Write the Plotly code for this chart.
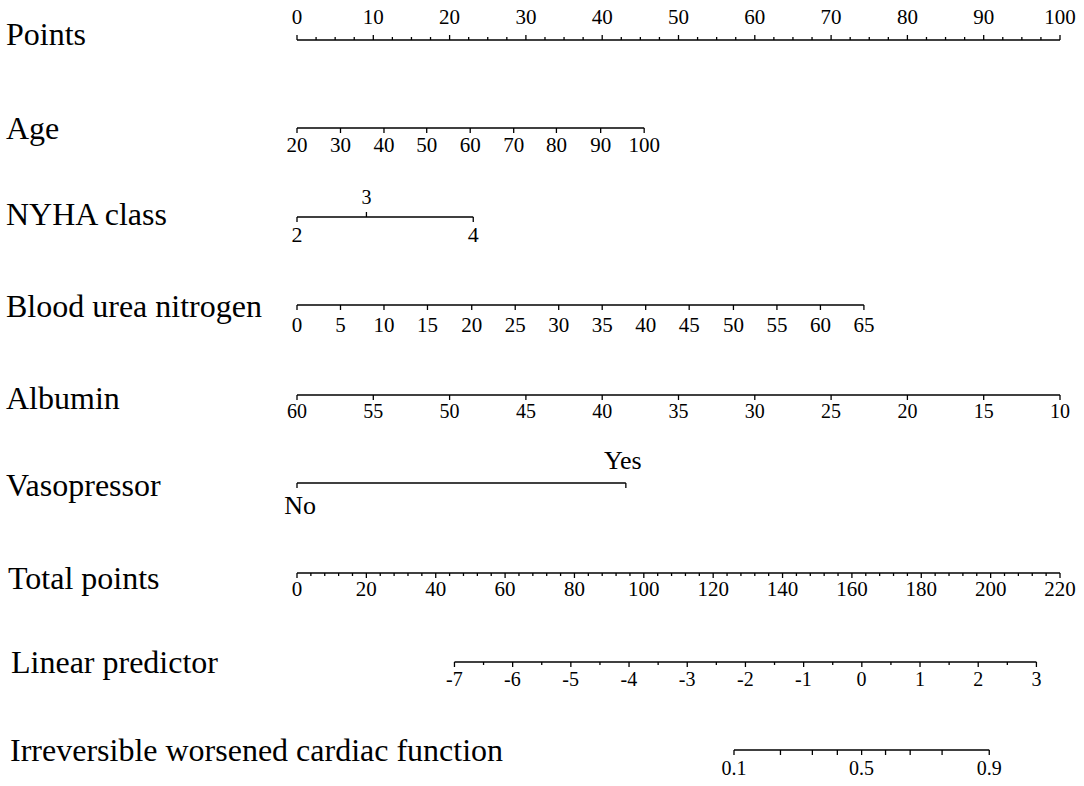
import plotly.graph_objects as go

# ---------------- data ----------------
points_ticks = [0, 10, 20, 30, 40, 50, 60, 70, 80, 90, 100]

age_values = [20, 30, 40, 50, 60, 70, 80, 90, 100]
age_points = [0, 5.7, 11.4, 17.0, 22.7, 28.4, 34.0, 39.8, 45.5]

nyha_values = ["2", "3", "4"]
nyha_points = [0, 9.1, 23.1]

bun_values = [0, 5, 10, 15, 20, 25, 30, 35, 40, 45, 50, 55, 60, 65]
bun_points = [0, 5.7, 11.4, 17.1, 22.9, 28.6, 34.3, 40.0, 45.7, 51.4, 57.2, 62.9, 68.6, 74.3]

albumin_values = [60, 55, 50, 45, 40, 35, 30, 25, 20, 15, 10]
albumin_points = [0, 10, 20, 30, 40, 50, 60, 70, 80, 90, 100]

vaso_values = ["No", "Yes"]
vaso_points = [0, 43.1]

total_ticks = [0, 20, 40, 60, 80, 100, 120, 140, 160, 180, 200, 220]
total_max = 220

lp_values = [-7, -6, -5, -4, -3, -2, -1, 0, 1, 2, 3]
lp_total = [45.4, 62.1, 78.9, 95.7, 112.5, 129.3, 146.0, 162.8, 179.6, 196.4, 213.2]

prob_values = [0.1, 0.2, 0.3, 0.4, 0.5, 0.6, 0.7, 0.8, 0.9]
prob_total = [126.0, 139.4, 148.6, 155.8, 162.8, 169.7, 176.8, 186.0, 199.6]
prob_labels = ["0.1", "", "", "", "0.5", "", "", "", "0.9"]

row_titles = ["Points", "Age", "NYHA class", "Blood urea nitrogen", "Albumin",
              "Vasopressor", "Total points", "Linear predictor",
              "Irreversible worsened cardiac function"]

# ---------------- layout constants ----------------
W, H = 1084, 786
X0_PX, X100_PX = 297, 1060        # page pixels of points 0 and 100
PPU = (X100_PX - X0_PX) / 100.0
FONT = "Liberation Serif"
LINE_Y = [40, 128, 217, 305, 395, 483, 573, 662, 750]
TITLE_Y = [34, 128, 214, 306, 398, 485, 578, 662, 750]
TITLE_X = [4, 4, 4, 4, 4, 4, 6, 9, 8]
LW = 1.3
TICK_FS = 21

fig = go.Figure()


def tp2pts(v):
    return v * 100.0 / total_max


def add_axis(xs_line, y, ticks, dirs, lens):
    xs = [min(xs_line), max(xs_line), None]
    ys = [y, y, None]
    for x, d, L in zip(ticks, dirs, lens):
        xs += [x, x, None]
        ys += [y, y + d * L, None]
    fig.add_trace(go.Scatter(x=xs, y=ys, mode="lines",
                             line=dict(color="black", width=LW),
                             cliponaxis=False,
                             hoverinfo="skip", showlegend=False))


def add_labels(xs, y, texts, size):
    fig.add_trace(go.Scatter(x=xs, y=[y] * len(xs), mode="text",
                             text=[str(t) for t in texts],
                             textfont=dict(family=FONT, size=size, color="black"),
                             textposition="middle center",
                             cliponaxis=False,
                             hoverinfo="skip", showlegend=False))


# Points (ticks upward)
pts_minor = [i * 2.5 for i in range(41)]
add_axis(pts_minor, LINE_Y[0], pts_minor, [-1] * len(pts_minor),
         [5 if (v % 10 == 0) else 3 for v in pts_minor])
add_labels(points_ticks, 19, points_ticks, TICK_FS)

# Age
add_axis(age_points, LINE_Y[1], age_points, [1] * len(age_points), [5] * len(age_points))
add_labels(age_points, 147, age_values, TICK_FS)

# NYHA
add_axis(nyha_points, LINE_Y[2], nyha_points, [1, -1, 1], [5, 5, 5])
add_labels([nyha_points[0], nyha_points[2]], 236, [nyha_values[0], nyha_values[2]], 22)
add_labels([nyha_points[1]], 199, [nyha_values[1]], 20)

# BUN
add_axis(bun_points, LINE_Y[3], bun_points, [1] * len(bun_points), [5] * len(bun_points))
add_labels(bun_points, 327, bun_values, TICK_FS)

# Albumin
add_axis(albumin_points, LINE_Y[4], albumin_points, [1] * len(albumin_points), [5] * len(albumin_points))
add_labels(albumin_points, 413, albumin_values, 20)

# Vasopressor
add_axis(vaso_points, LINE_Y[5], vaso_points, [1, 1], [5, 5])
add_labels([vaso_points[0] + 0.4], 507, [vaso_values[0]], 26)
add_labels([vaso_points[1] - 0.4], 462, [vaso_values[1]], 26)

# Total points
tot_minor = [tp2pts(v) for v in range(0, total_max + 1, 4)]
tot_lens = [5 if v % 20 == 0 else 3 for v in range(0, total_max + 1, 4)]
add_axis(tot_minor, LINE_Y[6], tot_minor, [1] * len(tot_minor), tot_lens)
add_labels([tp2pts(v) for v in total_ticks], 591, total_ticks, TICK_FS)

# Linear predictor
lp_pts = [tp2pts(v) for v in lp_total]
slope = (lp_pts[-1] - lp_pts[0]) / (lp_values[-1] - lp_values[0])
lp_minor = [lp_pts[0] + slope * 0.5 * i for i in range(int((lp_values[-1] - lp_values[0]) * 2) + 1)]
lp_lens = [5 if i % 2 == 0 else 3 for i in range(len(lp_minor))]
add_axis(lp_minor, LINE_Y[7], lp_minor, [1] * len(lp_minor), lp_lens)
add_labels(lp_pts, 681, lp_values, 20)

# Probability
pr_pts = [tp2pts(v) for v in prob_total]
add_axis(pr_pts, LINE_Y[8], pr_pts, [1] * len(pr_pts), [5] * len(pr_pts))
lab_x = [p for p, l in zip(pr_pts, prob_labels) if l]
lab_t = [l for l in prob_labels if l]
add_labels(lab_x, 770, lab_t, 20)

# Row titles
for t, ty, tx in zip(row_titles, TITLE_Y, TITLE_X):
    fig.add_annotation(x=tx / W, y=ty, xref="paper", yref="y", text=t,
                       showarrow=False, xanchor="left", yanchor="middle",
                       font=dict(family=FONT, size=32, color="black"))

fig.update_layout(
    width=W, height=H,
    margin=dict(l=0, r=0, t=0, b=0),
    paper_bgcolor="white", plot_bgcolor="white",
    xaxis=dict(range=[-X0_PX / PPU, (W - X0_PX) / PPU], visible=False, fixedrange=True),
    yaxis=dict(range=[H, 0], visible=False, fixedrange=True),
    showlegend=False,
    hovermode=False,
)

fig.write_html("out.html",
               config={"displayModeBar": False, "staticPlot": True},
               post_script="document.body.style.margin='0';document.body.style.overflow='hidden';")
